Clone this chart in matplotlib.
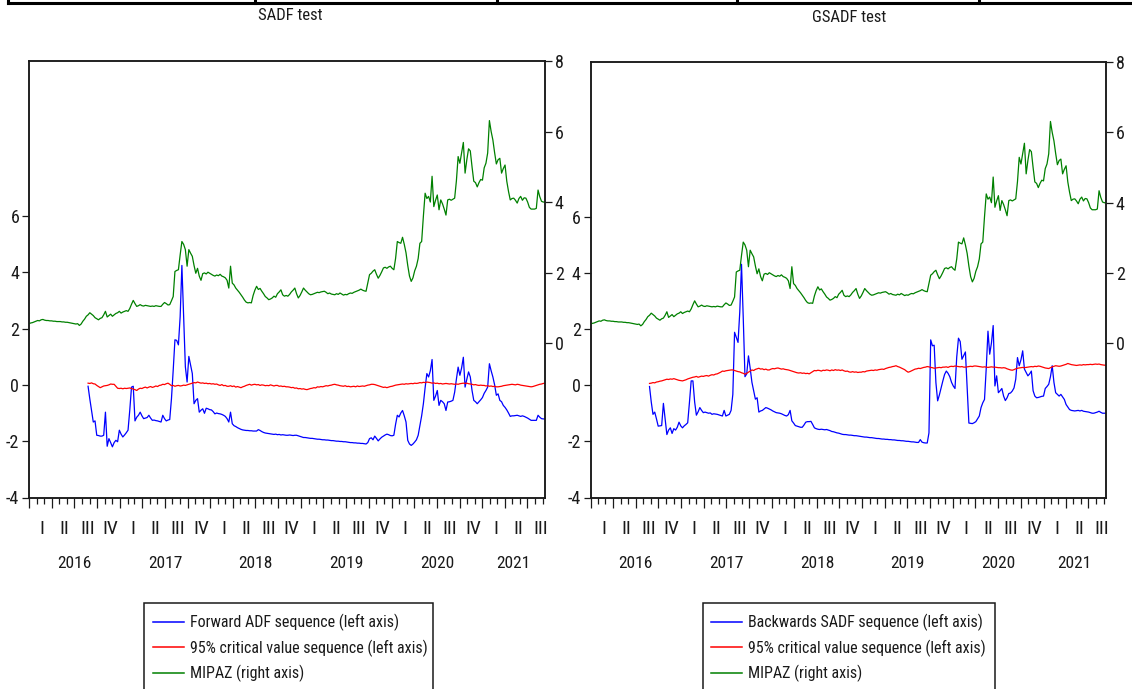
import numpy as np
import pandas as pd
import matplotlib
matplotlib.use("Agg")
import matplotlib.pyplot as plt
from matplotlib.lines import Line2D
from matplotlib.patches import Rectangle
import logging

logging.getLogger('matplotlib.font_manager').setLevel(logging.ERROR)
plt.rcParams['font.family'] = ['Roboto Condensed', 'Archivo Narrow', 'Liberation Sans']

# ---------------------------------------------------------------- data
dates = pd.date_range('2016-01-01', periods=298, freq='7D')

# MIPAZ index (right axis), weekly
mipaz = [
    0.55, 0.57, 0.58, 0.60, 0.62, 0.64, 0.63, 0.66, 0.67, 0.65,
    0.64, 0.64, 0.63, 0.63, 0.62, 0.62, 0.61, 0.61, 0.61, 0.60,
    0.60, 0.59, 0.59, 0.58, 0.57, 0.56, 0.55, 0.54, 0.55, 0.50,
    0.54, 0.62, 0.68, 0.76, 0.80, 0.86, 0.82, 0.78, 0.72, 0.69,
    0.66, 0.70, 0.72, 0.80, 0.90, 0.74, 0.78, 0.82, 0.76, 0.80,
    0.84, 0.86, 0.90, 0.85, 0.88, 0.90, 0.92, 0.90, 0.98, 1.10,
    1.21, 1.12, 1.04, 1.06, 1.09, 1.06, 1.05, 1.07, 1.06, 1.05,
    1.04, 1.05, 1.04, 1.06, 1.05, 1.04, 1.04, 1.10, 1.15, 1.12,
    1.08, 1.09, 1.20, 1.32, 2.03, 2.06, 2.08, 2.50, 2.88, 2.80,
    2.65, 2.18, 2.65, 2.55, 2.46, 2.20, 1.98, 2.12, 1.90, 1.78,
    1.97, 1.99, 1.96, 2.01, 1.98, 1.95, 1.92, 1.90, 1.93, 1.91,
    1.95, 1.90, 1.88, 1.85, 1.78, 1.56, 2.18, 1.70, 1.65, 1.56,
    1.50, 1.44, 1.37, 1.30, 1.22, 1.16, 1.14, 1.15, 1.14, 1.35,
    1.50, 1.61, 1.52, 1.55, 1.47, 1.40, 1.32, 1.28, 1.23, 1.25,
    1.28, 1.33, 1.30, 1.40, 1.45, 1.51, 1.37, 1.33, 1.35, 1.33,
    1.38, 1.45, 1.50, 1.56, 1.40, 1.28, 1.35, 1.45, 1.56, 1.50,
    1.45, 1.40, 1.37, 1.38, 1.40, 1.42, 1.44, 1.43, 1.45, 1.46,
    1.47, 1.44, 1.40, 1.42, 1.39, 1.38, 1.37, 1.40, 1.38, 1.42,
    1.39, 1.36, 1.38, 1.37, 1.40, 1.42, 1.41, 1.44, 1.46, 1.48,
    1.50, 1.53, 1.50, 1.48, 1.47, 1.70, 1.94, 1.98, 2.04, 2.08,
    1.95, 1.84, 1.92, 2.02, 2.13, 2.15, 2.12, 2.16, 2.18, 2.12,
    2.08, 2.40, 2.88, 2.85, 2.83, 3.00, 2.80, 2.56, 2.20, 1.90,
    1.75, 1.85, 2.05, 2.18, 2.40, 2.83, 2.88, 3.60, 4.25, 4.10,
    4.16, 4.00, 4.73, 3.87, 4.05, 4.20, 3.78, 4.06, 3.95, 3.80,
    3.63, 4.06, 4.08, 4.05, 4.08, 4.11, 4.60, 5.29, 5.10, 5.40,
    5.69, 4.82, 5.20, 5.51, 5.45, 5.00, 4.59, 4.55, 4.43, 4.55,
    4.64, 4.62, 4.97, 5.10, 5.39, 6.31, 6.00, 5.76, 5.40, 5.08,
    5.20, 5.24, 4.82, 4.95, 5.05, 4.59, 4.30, 4.06, 4.10, 4.11,
    4.05, 3.97, 4.10, 4.16, 4.05, 4.12, 4.11, 4.00, 3.85, 3.80,
    3.80, 3.80, 3.82, 4.34, 4.15, 4.02, 4.00, 4.00,
]

# Forward ADF sequence (SADF), from week 34 on
forward_adf = [
    -0.05, -0.50, -0.91, -1.32, -1.28, -1.79,
    -1.80, -1.82, -1.82, -1.79, -0.97, -2.18, -1.91, -2.05, -2.20, -2.05,
    -1.97, -2.02, -1.61, -1.75, -1.85, -1.78, -1.70, -1.61, -0.90, -0.08,
    -0.05, -1.28, -1.15, -1.08, -0.97, -1.10, -1.20, -1.18, -1.16, -1.08,
    -1.18, -1.26, -1.25, -1.27, -1.28, -1.30, -1.32, -1.08, -1.20, -1.28,
    -1.25, -1.23, -0.49, 0.52, 1.60, 1.58, 1.42, 2.42, 4.24, 2.42,
    0.64, 0.10, 1.01, 0.70, 0.40, -0.67, -0.55, -0.49, -0.97, -0.90,
    -0.85, -1.01, -0.83, -0.85, -0.88, -0.89, -0.95, -1.03, -1.00, -1.02,
    -1.03, -1.05, -1.08, -1.12, -1.20, -1.32, -0.97, -1.38, -1.45, -1.48,
    -1.52, -1.55, -1.58, -1.60, -1.61, -1.62, -1.62, -1.63, -1.63, -1.64,
    -1.64, -1.64, -1.59, -1.62, -1.66, -1.69, -1.71, -1.72, -1.73, -1.74,
    -1.75, -1.76, -1.75, -1.77, -1.76, -1.78, -1.77, -1.78, -1.79, -1.79,
    -1.78, -1.79, -1.80, -1.79, -1.79, -1.81, -1.83, -1.85, -1.87, -1.87,
    -1.88, -1.89, -1.90, -1.90, -1.91, -1.92, -1.93, -1.93, -1.94, -1.95,
    -1.95, -1.96, -1.96, -1.97, -1.98, -1.98, -1.99, -2.00, -2.00, -2.01,
    -2.01, -2.02, -2.02, -2.03, -2.04, -2.05, -2.05, -2.06, -2.06, -2.07,
    -2.07, -2.08, -2.08, -2.09, -2.10, -2.05, -1.91, -1.88, -1.95, -1.82,
    -1.90, -1.99, -1.92, -1.86, -1.82, -1.78, -1.75, -1.77, -1.80, -1.81,
    -1.79, -1.40, -1.08, -1.14, -1.00, -0.91, -1.10, -1.32, -1.97, -2.10,
    -2.15, -2.10, -2.03, -1.95, -1.79, -1.44, -1.10, -0.67, -0.10, 0.40,
    0.28, 0.50, 0.90, -0.55, -0.40, -0.20, -0.73, -0.55, -0.60, -0.67,
    -0.91, -0.61, -0.60, -0.58, -0.55, -0.26, 0.20, 0.63, 0.34, 0.60,
    0.98, -0.08, 0.20, 0.46, 0.28, -0.20, -0.55, -0.60, -0.67, -0.60,
    -0.53, -0.45, -0.30, -0.20, -0.08, 0.75, 0.50, 0.28, 0.00, -0.37,
    -0.32, -0.55, -0.60, -0.73, -0.80, -0.89, -1.00, -1.12, -1.10, -1.10,
    -1.09, -1.08, -1.10, -1.12, -1.10, -1.12, -1.15, -1.18, -1.22, -1.26,
    -1.26, -1.26, -1.26, -1.08, -1.15, -1.20, -1.21, -1.21,
]

# 95% critical value sequence for SADF
cv_sadf = [
    0.06, 0.05, 0.07, 0.04, 0.03, -0.02,
    -0.06, -0.10, -0.07, -0.04, -0.03, -0.02, 0.00, 0.03, 0.02, 0.02,
    -0.05, -0.12, -0.13, -0.12, -0.14, -0.12, -0.13, -0.12, -0.11, -0.13,
    -0.15, -0.17, -0.20, -0.15, -0.12, -0.13, -0.10, -0.08, -0.11, -0.08,
    -0.06, -0.09, -0.07, -0.04, -0.06, -0.02, -0.01, 0.02, 0.01, 0.04,
    0.06, 0.02, -0.03, -0.02, -0.05, -0.03, -0.02, -0.04, -0.03, -0.01,
    -0.02, 0.00, 0.02, 0.04, 0.06, 0.08, 0.07, 0.10, 0.08, 0.06,
    0.07, 0.05, 0.06, 0.04, 0.05, 0.03, 0.04, 0.02, 0.03, 0.00,
    -0.02, 0.01, -0.03, -0.02, -0.05, -0.05, -0.03, -0.06, -0.04, -0.08,
    -0.06, -0.08, -0.10, -0.07, -0.05, -0.02, 0.00, 0.02, -0.01, 0.01,
    0.02, 0.00, 0.01, -0.02, 0.00, -0.01, -0.03, -0.02, -0.03, 0.00,
    -0.02, -0.04, -0.02, -0.02, -0.05, -0.04, -0.06, -0.05, -0.07, -0.07,
    -0.08, -0.10, -0.09, -0.12, -0.11, -0.14, -0.13, -0.15, -0.14, -0.16,
    -0.17, -0.15, -0.13, -0.12, -0.10, -0.11, -0.07, -0.08, -0.06, -0.07,
    -0.05, -0.03, -0.04, -0.02, -0.01, 0.01, 0.02, 0.00, -0.01, -0.03,
    -0.04, -0.05, -0.03, -0.06, -0.05, -0.07, -0.06, -0.05, -0.07, -0.04,
    -0.06, -0.05, -0.04, -0.05, -0.03, -0.01, 0.00, 0.02, 0.02, 0.01,
    -0.01, -0.03, -0.05, -0.07, -0.09, -0.08, -0.10, -0.08, -0.06, -0.05,
    -0.03, -0.01, 0.00, 0.01, 0.02, 0.03, 0.02, 0.04, 0.03, 0.04,
    0.05, 0.04, 0.06, 0.05, 0.06, 0.08, 0.07, 0.09, 0.08, 0.10,
    0.09, 0.08, 0.06, 0.07, 0.05, 0.06, 0.04, 0.05, 0.03, 0.04,
    0.05, 0.04, 0.03, 0.04, 0.03, 0.02, 0.03, 0.02, 0.04, 0.05,
    0.06, 0.05, 0.06, 0.04, 0.03, 0.02, 0.00, 0.01, -0.01, -0.02,
    -0.01, -0.02, -0.02, -0.04, -0.03, -0.05, -0.04, -0.06, -0.05, -0.07,
    -0.07, -0.06, -0.05, -0.03, -0.02, -0.01, 0.00, 0.01, 0.02, 0.01,
    0.00, 0.02, 0.01, -0.01, -0.02, -0.03, -0.04, -0.05, -0.06, -0.07,
    -0.06, -0.04, -0.02, 0.00, 0.02, 0.03, 0.05, 0.06,
]

# Backwards SADF sequence (GSADF), from week 34 on
backward_sadf = [
    -0.05, -0.60, -1.04, -0.96, -1.20, -1.46,
    -1.45, -1.44, -0.65, -1.20, -1.76, -1.60, -1.52, -1.72, -1.55, -1.60,
    -1.50, -1.32, -1.45, -1.52, -1.45, -1.40, -1.34, -0.62, 0.15, 0.15,
    -0.60, -1.07, -0.95, -0.80, -0.90, -0.98, -0.96, -0.98, -1.00, -0.99,
    -1.04, -1.02, -1.03, -1.04, -1.06, -1.08, -1.10, -0.90, -1.10, -1.07,
    -1.04, -0.90, -0.33, 1.88, 1.70, 1.52, 2.60, 4.30, 2.40, 0.30,
    0.40, 1.04, 0.60, 0.10, -0.20, -0.50, -0.45, -0.96, -0.92, -0.90,
    -0.85, -0.80, -0.82, -0.85, -0.88, -0.92, -0.95, -0.98, -0.99, -1.00,
    -1.02, -1.05, -1.08, -1.10, -1.05, -0.90, -1.27, -1.35, -1.44, -1.46,
    -1.48, -1.50, -1.50, -1.42, -1.32, -1.30, -1.30, -1.29, -1.40, -1.52,
    -1.55, -1.57, -1.58, -1.57, -1.58, -1.59, -1.58, -1.60, -1.62, -1.65,
    -1.66, -1.68, -1.70, -1.71, -1.73, -1.75, -1.76, -1.76, -1.77, -1.78,
    -1.78, -1.79, -1.80, -1.80, -1.81, -1.82, -1.83, -1.84, -1.85, -1.85,
    -1.86, -1.87, -1.87, -1.88, -1.89, -1.90, -1.90, -1.91, -1.92, -1.92,
    -1.93, -1.93, -1.94, -1.94, -1.95, -1.95, -1.96, -1.97, -1.97, -1.98,
    -1.98, -1.99, -2.00, -2.00, -2.01, -2.02, -2.02, -2.03, -2.04, -2.04,
    -1.94, -2.03, -2.05, -2.06, -2.06, -1.70, 1.61, 1.40, 1.42, 0.09,
    -0.56, -0.35, -0.10, 0.15, 0.38, 0.50, 0.42, 0.30, 0.10, -0.03,
    -0.12, 1.00, 1.67, 1.55, 0.92, 1.05, 1.18, -0.10, -1.35, -1.36,
    -1.37, -1.34, -1.30, -1.20, -1.10, -0.80, -0.63, -0.51, 0.60, 1.92,
    1.10, 1.50, 2.12, -0.03, 0.33, -0.27, -0.20, -0.12, -0.39, -0.55,
    -0.45, -0.30, -0.28, -0.21, -0.10, 0.21, 0.98, 0.69, 0.90, 1.22,
    0.57, 0.45, 0.33, 0.40, 0.50, -0.20, -0.39, -0.45, -0.44, -0.42,
    -0.40, -0.39, -0.12, -0.05, 0.03, 0.30, 0.69, 0.10, -0.27, -0.33,
    -0.39, -0.33, -0.42, -0.51, -0.69, -0.78, -0.87, -0.90, -0.91, -0.92,
    -0.91, -0.90, -0.92, -0.90, -0.93, -0.94, -0.95, -0.96, -0.98, -1.00,
    -1.00, -0.98, -0.96, -0.93, -0.97, -1.00, -1.00, -1.00,
]

# 95% critical value sequence for GSADF
cv_gsadf = [
    0.06, 0.07, 0.09, 0.08, 0.11, 0.12,
    0.14, 0.15, 0.17, 0.19, 0.21, 0.20, 0.22, 0.21, 0.23, 0.21,
    0.19, 0.17, 0.16, 0.15, 0.17, 0.19, 0.22, 0.24, 0.26, 0.28,
    0.29, 0.31, 0.28, 0.30, 0.32, 0.31, 0.33, 0.34, 0.32, 0.35,
    0.37, 0.36, 0.39, 0.40, 0.43, 0.46, 0.50, 0.49, 0.51, 0.52,
    0.53, 0.54, 0.54, 0.52, 0.50, 0.48, 0.47, 0.44, 0.42, 0.39,
    0.42, 0.46, 0.50, 0.54, 0.52, 0.56, 0.58, 0.60, 0.57, 0.58,
    0.55, 0.57, 0.54, 0.54, 0.57, 0.59, 0.58, 0.60, 0.61, 0.59,
    0.57, 0.58, 0.56, 0.55, 0.54, 0.52, 0.50, 0.48, 0.46, 0.44,
    0.43, 0.44, 0.42, 0.43, 0.41, 0.42, 0.40, 0.44, 0.48, 0.52,
    0.51, 0.53, 0.52, 0.50, 0.53, 0.52, 0.54, 0.53, 0.51, 0.54,
    0.52, 0.55, 0.53, 0.54, 0.52, 0.54, 0.51, 0.49, 0.50, 0.47,
    0.46, 0.48, 0.46, 0.47, 0.45, 0.46, 0.46, 0.48, 0.47, 0.50,
    0.51, 0.52, 0.53, 0.52, 0.54, 0.53, 0.55, 0.56, 0.57, 0.56,
    0.59, 0.61, 0.63, 0.64, 0.66, 0.67, 0.69, 0.66, 0.64, 0.61,
    0.58, 0.55, 0.50, 0.46, 0.48, 0.51, 0.54, 0.57, 0.58, 0.60,
    0.59, 0.61, 0.63, 0.64, 0.66, 0.65, 0.63, 0.62, 0.60, 0.61,
    0.62, 0.63, 0.62, 0.64, 0.64, 0.65, 0.63, 0.66, 0.67, 0.66,
    0.68, 0.67, 0.66, 0.65, 0.66, 0.64, 0.64, 0.65, 0.66, 0.67,
    0.66, 0.68, 0.68, 0.67, 0.66, 0.65, 0.64, 0.65, 0.64, 0.63,
    0.64, 0.65, 0.64, 0.64, 0.63, 0.62, 0.62, 0.61, 0.62, 0.61,
    0.58, 0.56, 0.54, 0.53, 0.55, 0.58, 0.60, 0.61, 0.62, 0.63,
    0.62, 0.63, 0.64, 0.65, 0.66, 0.65, 0.67, 0.66, 0.68, 0.67,
    0.65, 0.63, 0.61, 0.60, 0.59, 0.62, 0.65, 0.67, 0.69, 0.68,
    0.67, 0.68, 0.70, 0.72, 0.74, 0.77, 0.75, 0.73, 0.72, 0.71,
    0.70, 0.71, 0.72, 0.71, 0.73, 0.72, 0.73, 0.73, 0.74, 0.73,
    0.74, 0.75, 0.74, 0.75, 0.73, 0.72, 0.71, 0.71,
]

left_ticks = [-4, -2, 0, 2, 4, 6]
right_ticks = [0, 2, 4, 6, 8]
quarter_names = ['I', 'II', 'III', 'IV']
years = [2016, 2017, 2018, 2019, 2020, 2021]

panels = [
    dict(title='SADF test', stat=forward_adf, cv=cv_sadf,
         stat_label='Forward ADF sequence (left axis)'),
    dict(title='GSADF test', stat=backward_sadf, cv=cv_gsadf,
         stat_label='Backwards SADF sequence (left axis)'),
]

# ---------------------------------------------------------------- figure
W, H = 1132, 689
fig = plt.figure(figsize=(W / 100, H / 100), dpi=100)
fig.patch.set_facecolor('white')
INK = '#1a1a1a'


def fx(px):
    return px / W


def fy(py):
    return 1 - py / H


# table rule along the top edge
fig.add_artist(Line2D([fx(8), 1], [fy(3), fy(3)], color='black', lw=2.2))
for vx in (8, 255, 497, 737, 979):
    fig.add_artist(Line2D([fx(vx), fx(vx)], [1, fy(3)], color='black', lw=2.2))

axes_px = [(29, 61, 545, 497.5), (590.5, 62, 1106, 497.5)]
title_px = [(290, 16), (849, 17)]
legend_box_px = [(143.5, 602.5, 432.5), (702.5, 602.5, 995)]
legend_handle_px = [152.5, 710.5]

x0, x1 = dates[0], dates[-1]
qstarts = pd.date_range('2016-01-01', '2021-07-01', freq='QS')
mstarts = pd.date_range('2016-01-01', '2021-09-01', freq='MS')
label_shift = pd.Timedelta(days=7)

for k, p in enumerate(panels):
    l, t, r, b = axes_px[k]
    ax = fig.add_axes([fx(l), fy(b), fx(r - l), (b - t) / H])
    ax2 = ax.twinx()

    sd = dates[len(dates) - len(p['stat']):]
    cd = dates[len(dates) - len(p['cv']):]
    h1, = ax.plot(sd, p['stat'], color='#0000ff', lw=0.9, label=p['stat_label'])
    h2, = ax.plot(cd, p['cv'], color='#ff0000', lw=0.9,
                  label='95% critical value sequence (left axis)')
    h3, = ax2.plot(dates[:len(mipaz)], mipaz, color='#008000', lw=0.9,
                   label='MIPAZ (right axis)')

    ax.set_xlim(x0, x1)
    ax.set_ylim(-4, 11.5)
    ax2.set_ylim(-4.38, 8)
    ax.set_yticks(left_ticks)
    ax.set_yticklabels([str(v) for v in left_ticks])
    ax2.set_yticks(right_ticks)
    ax2.set_yticklabels([str(v) for v in right_ticks])

    for a in (ax, ax2):
        for s in a.spines.values():
            s.set_linewidth(1.1)
            s.set_color(INK)
    for a in (ax, ax2):
        a.tick_params(axis='y', direction='out', length=5, width=0.9, pad=2,
                      labelsize=13, colors=INK)

    ax.set_xticks(qstarts)
    ax.set_xticks(mstarts, minor=True)
    ax.set_xticklabels([])
    ax.tick_params(axis='x', which='major', direction='out', length=7,
                   width=0.9, colors=INK)
    ax.tick_params(axis='x', which='minor', direction='out', length=4,
                   width=0.9, colors=INK)

    xtr = ax.get_xaxis_transform()
    qy = -(529 - b) / (b - t)
    yy = -(563 - b) / (b - t)
    for y in years:
        for q in range(4):
            qs = pd.Timestamp(year=y, month=3 * q + 1, day=1)
            qe = qs + pd.DateOffset(months=3)
            mid = qs + (qe - qs) / 2 + label_shift
            if mid > x1:
                continue
            ax.text(mid, qy, quarter_names[q], transform=xtr, ha='center',
                    va='center', fontsize=14, color=INK)
        ys = max(pd.Timestamp(year=y, month=1, day=1), x0)
        ye = min(pd.Timestamp(year=y + 1, month=1, day=1), x1)
        ax.text(ys + (ye - ys) / 2, yy, str(y), transform=xtr, ha='center',
                va='center', fontsize=12.5, color=INK)

    tx, ty = title_px[k]
    fig.text(fx(tx), fy(ty), p['title'], ha='center', va='center',
             fontsize=12, color=INK)

    # legend frame (runs past the bottom edge)
    bl, bt, br = legend_box_px[k]
    fig.add_artist(Rectangle((fx(bl), fy(700)), fx(br - bl), (700 - bt) / H,
                             fill=False, edgecolor=INK, lw=1.1,
                             transform=fig.transFigure))
    leg = fig.legend(handles=[h1, h2, h3], loc='upper left',
                     bbox_to_anchor=(fx(legend_handle_px[k]), fy(614)),
                     frameon=False, fontsize=11.5, handlelength=2.0,
                     handletextpad=0.35, labelspacing=0.52, borderpad=0,
                     borderaxespad=0)
    for txt in leg.get_texts():
        txt.set_color(INK)
    for ln in leg.get_lines():
        ln.set_linewidth(1.1)

fig.savefig('out.png', dpi=100)
